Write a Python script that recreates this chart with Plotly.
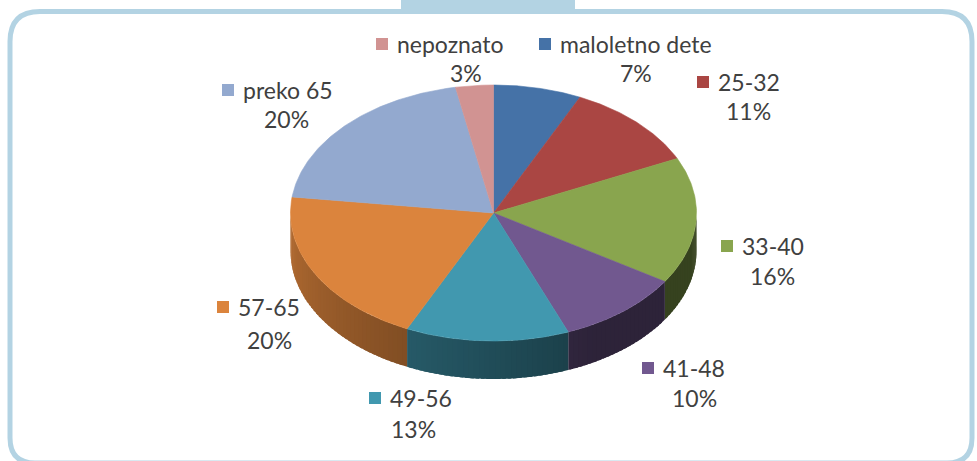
import numpy as np
import plotly.graph_objects as go

# data (clockwise from 12 o'clock)
labels = ["maloletno dete", "25-32", "33-40", "41-48", "49-56", "57-65", "preko 65", "nepoznato"]
shares = [7, 11, 16, 10, 13, 20, 20, 3]
colors = ["#4572A7", "#AA4643", "#89A54E", "#71588F", "#4198AF", "#DB843D", "#93A9CF", "#D19392"]

# label placement (pixel coords: legend key centre, percent centre)
label_pos = {
    "maloletno dete": ((545, 44), (636, 73)),
    "25-32": ((703, 82), (748, 111)),
    "33-40": ((727, 246), (772, 276)),
    "41-48": ((648, 368), (694, 398)),
    "49-56": ((375, 398), (413, 429)),
    "57-65": ((223, 307), (269, 340)),
    "preko 65": ((228, 90), (286, 119)),
    "nepoznato": ((382, 44), (466, 73)),
}

# pie geometry (pixels)
CX, CY, RX, RY, DEPTH = 493.5, 213, 203, 128, 38
FONT = dict(family="Lato, sans-serif", size=23, color="#404040")


def pt(theta_deg, dy=0):
    t = np.radians(theta_deg)
    return CX + RX * np.sin(t), CY - RY * np.cos(t) + dy


def shade(hex_color, f):
    r, g, b = (int(hex_color[i:i + 2], 16) for i in (1, 3, 5))
    return "rgb(%d,%d,%d)" % (r * f, g * f, b * f)


fig = go.Figure()

bounds = np.concatenate([[0], np.cumsum(shares)]) / sum(shares) * 360

# side walls (front half only), drawn as overlapping strips for a shading gradient
for i, c in enumerate(colors):
    a, b = max(bounds[i], 90), min(bounds[i + 1], 270)
    if a >= b:
        continue
    edges = np.linspace(a, b, max(2, int((b - a) / 1.5) + 1))
    for t1, t2 in zip(edges[:-1], edges[1:]):
        ts = np.linspace(t1, min(t2 + 1.0, b), 5)
        xt, yt = pt(ts)
        xb, yb = pt(ts[::-1], DEPTH)
        tm = (t1 + t2) / 2
        f = 0.4 + 0.42 * max(0, (tm - 150) / 120)
        fig.add_trace(go.Scatter(
            x=np.concatenate([xt, xb]), y=np.concatenate([yt, yb]),
            fill="toself", fillcolor=shade(c, f), mode="lines",
            line=dict(width=0), hoverinfo="skip", showlegend=False))

# top faces
for i, c in enumerate(colors):
    ts = np.linspace(bounds[i], bounds[i + 1], 80)
    xt, yt = pt(ts)
    fig.add_trace(go.Scatter(
        x=np.concatenate([[CX], xt, [CX]]), y=np.concatenate([[CY], yt, [CY]]),
        fill="toself", fillcolor=c, mode="lines",
        line=dict(color=c, width=0.6), hoverinfo="skip", showlegend=False,
        name=labels[i]))

# data labels with legend keys
for i, lab in enumerate(labels):
    (kx, ky), (px, py) = label_pos[lab]
    fig.add_trace(go.Scatter(
        x=[kx], y=[ky], mode="markers",
        marker=dict(symbol="square", size=12, color=colors[i]),
        hoverinfo="skip", showlegend=False))
    fig.add_annotation(x=kx + 13, y=ky, text=lab, showarrow=False,
                       xanchor="left", yanchor="middle", font=FONT)
    fig.add_annotation(x=px, y=py, text=f"{shares[i]}%", showarrow=False,
                       xanchor="center", yanchor="middle", font=FONT)

# rounded frame with tab (bottom edge runs just past the picture)
frame = "#B3D3E3"
fig.add_shape(type="path", xref="x", yref="y",
              path="M 40,11.5 L 942,11.5 Q 972,11.5 972,41.5 L 972,438 Q 972,463 947,463 "
                   "L 35,463 Q 10,463 10,438 L 10,41.5 Q 10,11.5 40,11.5 Z",
              line=dict(color=frame, width=5), fillcolor="rgba(0,0,0,0)", layer="below")
fig.add_shape(type="rect", xref="x", yref="y", x0=401, x1=575, y0=-2, y1=12,
              line=dict(width=0), fillcolor=frame, layer="below")

fig.update_layout(
    width=977, height=461,
    margin=dict(l=0, r=0, t=0, b=0),
    paper_bgcolor="white", plot_bgcolor="white",
    xaxis=dict(range=[0, 977], visible=False, fixedrange=True),
    yaxis=dict(range=[461, 0], visible=False, fixedrange=True),
)

fig.write_html("out.html", config=dict(displayModeBar=False),
               post_script="document.body.style.margin='0px';document.body.style.overflow='hidden';")
